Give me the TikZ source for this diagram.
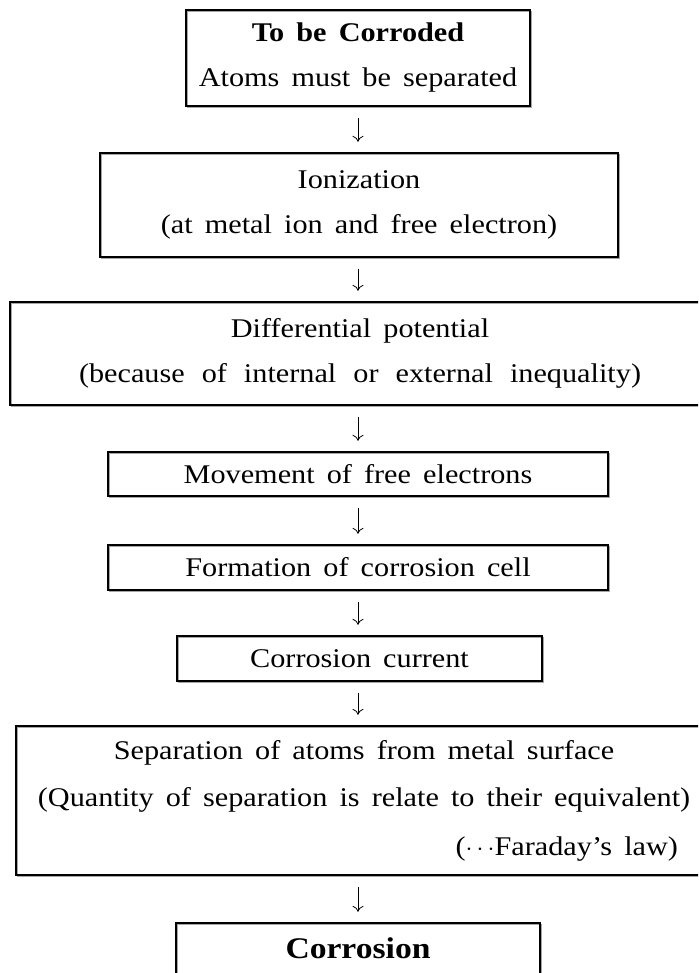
\documentclass[tikz,border=0pt]{standalone}
\usepackage{fontspec}
\setmainfont[WordSpace=1.6, FakeStretch=1.12]{Liberation Serif}
\usetikzlibrary{arrows.meta,calc}

\tikzset{
  txt/.style={font=\fontsize{27}{45}\selectfont},
  box/.style={draw=black, line width=2.3pt, rectangle, inner sep=0pt,
    align=center, txt,
    preaction={draw=black!35, line width=1.2pt,
      transform canvas={shift={(1.6pt,-1.6pt)}}}},
  flow/.style={line width=0.8pt, -{To[length=6pt,width=11pt]}}
}

\begin{document}
\begin{tikzpicture}[x=1pt,y=-1pt]
\useasboundingbox (0,0) rectangle (698,973);
\clip (0,0) rectangle (698,973);

% column through which all the arrows run
\coordinate (ax) at (358,0);

\node[box, minimum width=344pt, minimum height=96pt] (b1) at (358,58)
  {\textbf{To be Corroded}\\ Atoms must be separated};
\node[box, minimum width=518pt, minimum height=104pt] (b2) at (359,205)
  {Ionization\\ (at metal ion and free electron)};
\node[box, minimum width=700pt, minimum height=103pt] (b3) at (360,353.5)
  {Differential potential\\
   \makebox[562pt][s]{(because of internal or external inequality)}};
\node[box, minimum width=500pt, minimum height=44pt] (b4) at (358,474)
  {Movement of free electrons};
\node[box, minimum width=500pt, minimum height=45pt] (b5) at (358,567.5)
  {Formation of corrosion cell};
\node[box, minimum width=365pt, minimum height=45pt] (b6) at (359.5,658.5)
  {Corrosion current};
\node[box, minimum width=696pt, minimum height=149pt] (b7) at (364,800.5)
  {Separation of atoms from metal surface\\[2pt]
   (Quantity of separation is relate to their equivalent)\\[4pt]
   \makebox[640pt][r]{($\cdots$Faraday’s law)\hspace*{6pt}}};
\node[box, minimum width=364pt, minimum height=55pt] (b8) at (358,950.5)
  {\raisebox{4pt}{\fontsize{30}{36}\selectfont\bfseries Corrosion}};

\foreach \a/\b in {b1/b2,b2/b3,b3/b4,b4/b5,b5/b6,b6/b7,b7/b8}
  \draw[flow] ($(\a.south -| ax)+(0,11)$) -- ($(\b.north -| ax)+(0,-10)$);
\end{tikzpicture}
\end{document}
